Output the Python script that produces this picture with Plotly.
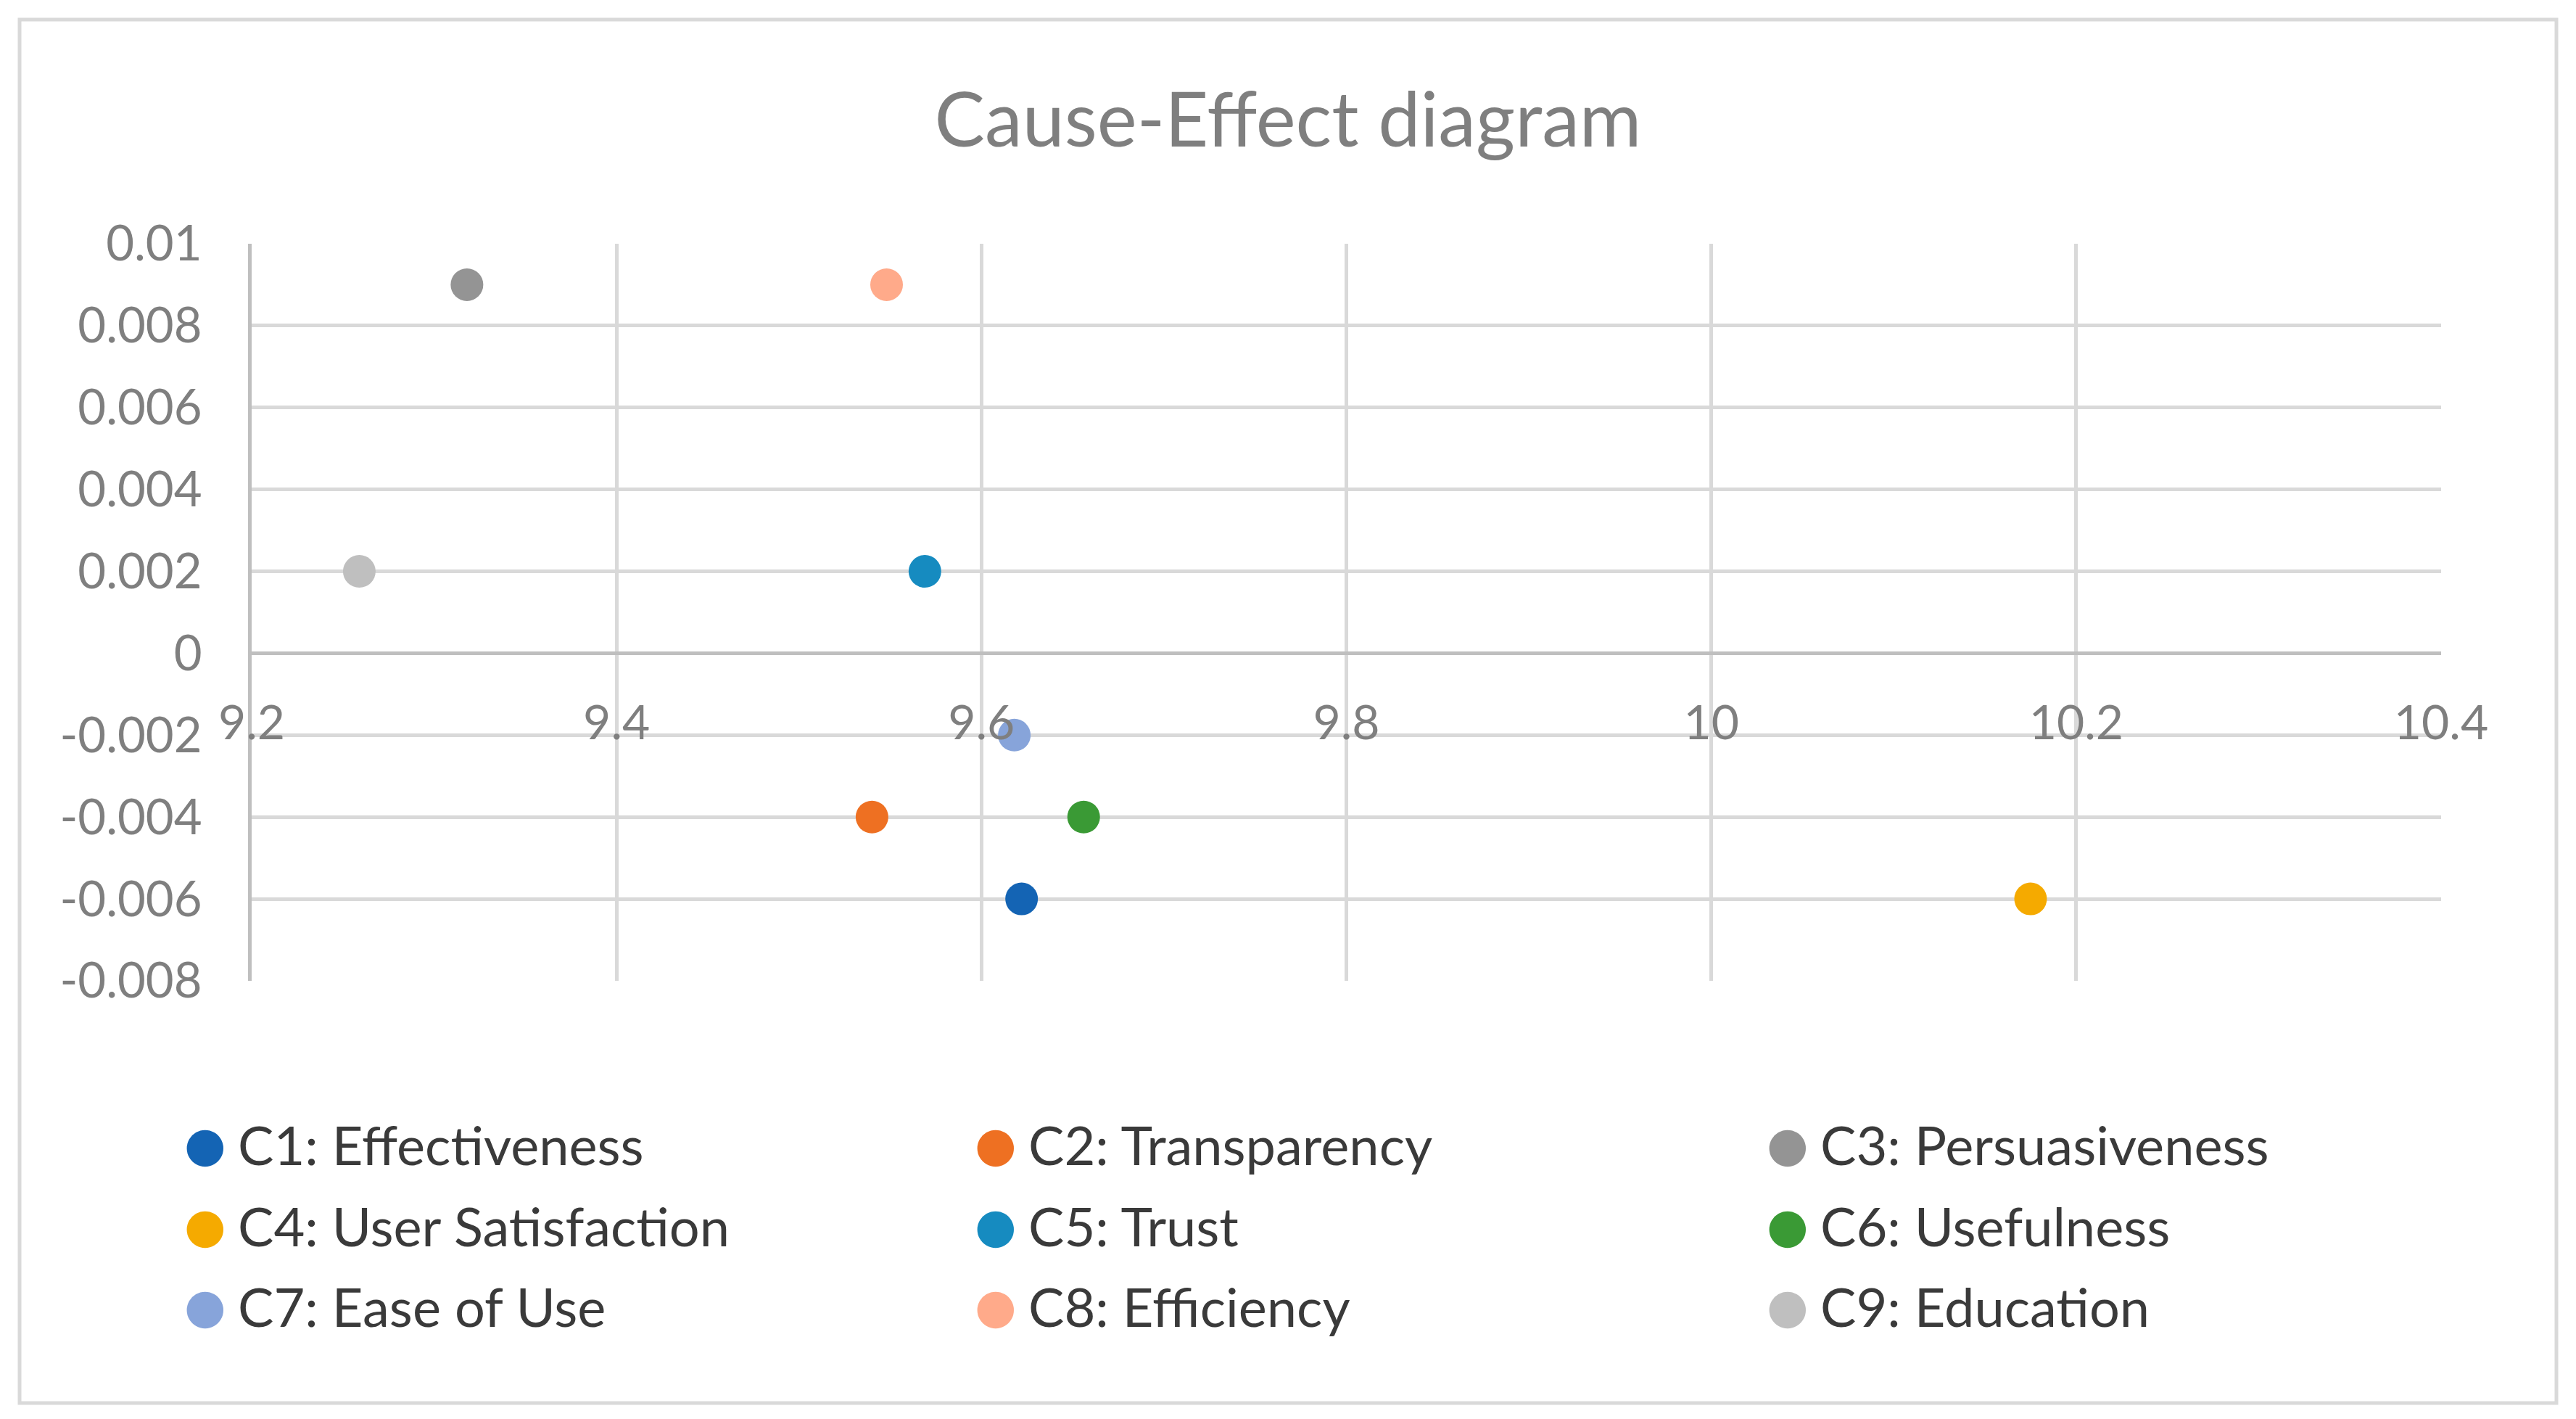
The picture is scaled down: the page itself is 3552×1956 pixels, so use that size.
import plotly.graph_objects as go

# ---- data ----
names = ["C1: Effectiveness", "C2: Transparency", "C3: Persuasiveness",
         "C4: User Satisfaction", "C5: Trust", "C6: Usefulness",
         "C7: Ease of Use", "C8: Efficiency", "C9: Education"]
x_vals = [9.622, 9.540, 9.318, 10.175, 9.569, 9.656, 9.618, 9.548, 9.259]
y_vals = [-0.006, -0.004, 0.009, -0.006, 0.002, -0.004, -0.002, 0.009, 0.002]
colors = ["#1464B4", "#EE7022", "#949494", "#F5AA00", "#168BC0",
          "#3A9A35", "#87A4DA", "#FFAA8A", "#BFBFBF"]
x_ticks = [9.2, 9.4, 9.6, 9.8, 10.0, 10.2, 10.4]
x_ticklabels = ["9.2", "9.4", "9.6", "9.8", "10", "10.2", "10.4"]
y_ticks = [-0.008, -0.006, -0.004, -0.002, 0, 0.002, 0.004, 0.006, 0.008, 0.01]
y_ticklabels = ["-0.008", "-0.006", "-0.004", "-0.002", "0", "0.002",
                "0.004", "0.006", "0.008", "0.01"]

W, H = 3552, 1956
ML, MR, MT, MB = 347, 186, 336, 604
PW, PH = W - ML - MR, H - MT - MB
FONT = "Lato"

def px_x(p):
    return (p - ML) / PW

def px_y(p):
    return (H - MB - p) / PH

fig = go.Figure()
for n, xv, yv, c in zip(names, x_vals, y_vals, colors):
    fig.add_trace(go.Scatter(
        x=[xv], y=[yv], mode="markers", name=n, showlegend=False,
        marker=dict(color=c, size=45, line=dict(width=0)),
    ))

ymin, ymax = y_ticks[0], y_ticks[-1]
zero_pos = (0 - ymin) / (ymax - ymin)

# legend drawn as text: 3 columns x 3 rows
col_marker_px = [283, 1373, 2465]
col_gap_px = 43
row_px = [1577, 1689, 1800]
annotations = []
for i, (n, c) in enumerate(zip(names, colors)):
    r, k = divmod(i, 3)
    annotations.append(dict(
        xref="paper", yref="paper", x=px_x(col_marker_px[k]), y=px_y(row_px[r]),
        text="●", showarrow=False, xanchor="center", yanchor="middle",
        font=dict(family="DejaVu Sans", size=66, color=c)))
    annotations.append(dict(
        xref="paper", yref="paper", x=px_x(col_marker_px[k] + col_gap_px),
        y=px_y(row_px[r]), text=n, showarrow=False, xanchor="left",
        yanchor="middle", font=dict(family=FONT, size=74, color="#3a3a3a")))

fig.update_layout(
    width=W, height=H,
    margin=dict(l=ML, r=MR, t=MT, b=MB),
    paper_bgcolor="white", plot_bgcolor="white",
    title=dict(text="Cause-Effect diagram", x=0.5, xanchor="center",
               xref="container", y=1 - 166 / H, yanchor="middle",
               font=dict(family=FONT, size=104, color="#7f7f7f")),
    xaxis=dict(range=[x_ticks[0], x_ticks[-1]], tickvals=x_ticks,
               ticktext=x_ticklabels, showgrid=True, gridcolor="#d9d9d9",
               gridwidth=5, zeroline=False, showline=True,
               linecolor="#bfbfbf", linewidth=5, anchor="free",
               position=zero_pos, ticks="", ticklabelstandoff=36,
               tickfont=dict(family=FONT, size=66, color="#7f7f7f")),
    yaxis=dict(range=[ymin, ymax], tickvals=y_ticks, ticktext=y_ticklabels,
               showgrid=True, gridcolor="#d9d9d9", gridwidth=5,
               zeroline=False, showline=True, linecolor="#bfbfbf",
               linewidth=5, ticks="", ticklabelstandoff=50,
               tickfont=dict(family=FONT, size=67, color="#7f7f7f")),
    showlegend=False,
    annotations=annotations,
    shapes=[dict(type="rect", xref="paper", yref="paper",
                 x0=px_x(27), x1=px_x(3525), y0=px_y(1934), y1=px_y(27),
                 line=dict(color="#d9d9d9", width=5), layer="below")],
)

fig.write_html("out.html", config={"displayModeBar": False},
               post_script="document.body.style.margin='0';")
